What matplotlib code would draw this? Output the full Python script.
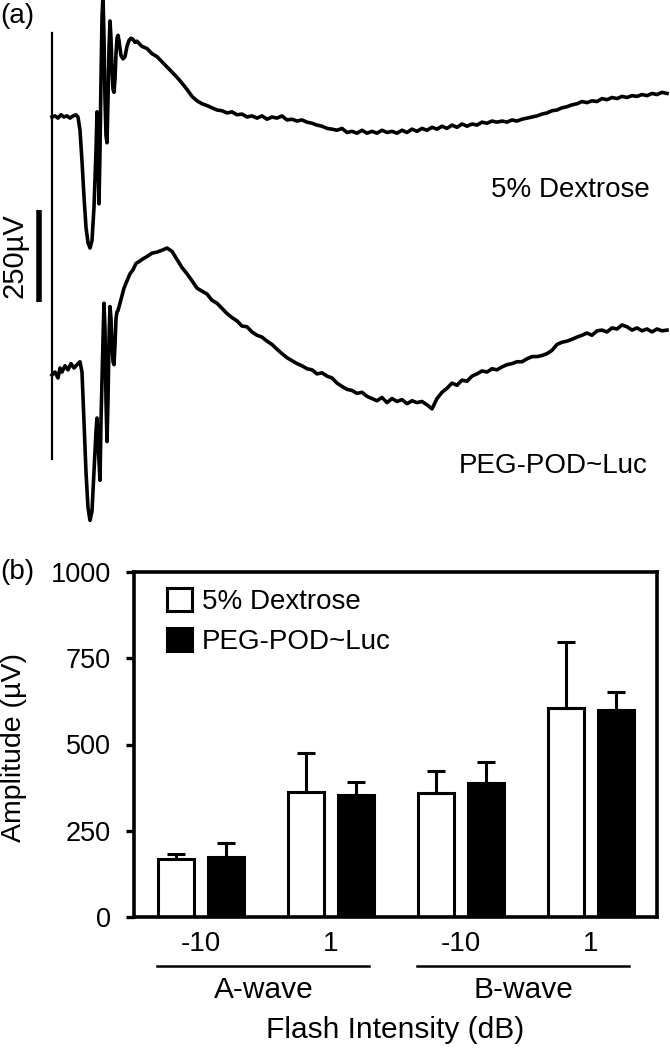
import matplotlib
matplotlib.use("Agg")
import matplotlib.pyplot as plt
from matplotlib.patches import Patch
import numpy as np

plt.rcParams['font.family'] = ['Liberation Sans', 'DejaVu Sans']

# ---------------- (a) ERG traces: time (ms), amplitude (uV rel. baseline) ----
dex_early_t = [0, 1.2, 2.4, 3.6, 4.8, 6, 7.2, 8.4, 9.6, 10.4, 11.2, 12, 12.8, 13.6,
               14.4, 15.2, 16, 16.8, 17.6, 18, 18.4, 18.8, 19.2, 19.6, 20, 20.4,
               20.8, 21.2, 21.6, 22, 22.4, 22.8, 23.2, 23.6, 24, 24.4, 24.8, 25.2,
               25.6, 26, 26.4, 26.8, 27.2, 27.6, 28.4, 29.2, 30, 30.8, 31.6, 32.4,
               33.2, 34, 35.2]
dex_early_v = [0, 3, -3, 6, 0, 3, -3, 3, 6, 0, -36, -120, -217, -300,
               -342, -356, -336, -245, -92, 14, -92, -236, -92, 103, 270, 330,
               214, 47, -50, -70, 47, 186, 261, 214, 131, 75, 67, 103,
               172, 214, 222, 208, 186, 167, 158, 164, 192, 208, 214, 211,
               203, 206, 197]

peg_early_t = [0, 1.2, 2.4, 3.2, 4, 5.2, 6.4, 7.6, 8.8, 10, 11.2, 12, 12.8, 13.6,
               14.4, 15.2, 16, 16.8, 17.6, 18, 18.4, 19.2, 19.6, 20.4, 20.8, 21.2,
               21.6, 22, 22.4, 22.8, 23.2, 23.6, 24, 24.4, 24.8, 25.2, 25.6, 26,
               26.4, 27.2, 28, 28.8, 30, 31.2, 32.4, 33.6, 34.8]
peg_early_v = [0, 8, -8, 19, 8, 25, 14, 31, 19, 28, 36, 8, -125, -264,
               -361, -395, -370, -264, -153, -117, -181, -286, -125, 97, 195, 125,
               -70, -181, -70, 97, 186, 153, 83, 36, 28, 83, 153, 172,
               175, 195, 214, 236, 256, 275, 286, 303, 308]

late_t = [36, 38, 40, 42, 44, 46, 48, 50, 52, 54, 56, 58, 60, 62, 64, 66, 68, 70,
          72, 74, 76, 78, 80, 82, 84, 86, 88, 90, 92, 94, 96, 98, 100, 102, 104,
          106, 108, 110, 112, 114, 116, 118, 120, 122, 124, 126, 128, 130, 132,
          134, 136, 138, 140, 142, 144, 146, 148, 150, 152, 154, 156, 158, 160,
          162, 164, 166, 168, 170, 172, 174, 176, 178, 180, 182, 184, 186, 188,
          190, 192, 194, 196, 198, 200, 202, 204, 206, 208, 210, 212, 214, 216,
          218, 220, 222, 224, 226, 228, 230, 232, 234, 236, 238, 240, 242, 244,
          246]
dex_late_v = [192, 186, 172, 164, 150, 136, 122, 108, 92, 75,
              56, 44, 36, 31, 25, 19, 17, 11, 14, 6,
              8, 0, 3, -3, 3, -6, 0, -3, 3, -8,
              -6, -11, -8, -14, -17, -22, -25, -31, -33, -36,
              -31, -42, -39, -44, -36, -44, -39, -44, -36, -42,
              -39, -44, -36, -42, -33, -39, -31, -36, -28, -33,
              -25, -31, -22, -28, -19, -25, -19, -22, -14, -17,
              -11, -14, -11, -14, -8, -11, -6, -3, 0, 3,
              8, 11, 17, 19, 25, 28, 33, 36, 42, 39,
              44, 42, 50, 47, 53, 50, 56, 53, 58, 56,
              61, 58, 64, 61, 67, 64]
peg_late_v = [314, 322, 331, 334, 339, 345, 336, 314, 292, 275,
              256, 236, 228, 220, 203, 195, 181, 167, 156, 147,
              133, 131, 117, 108, 103, 92, 83, 70, 58, 47,
              39, 31, 25, 17, 14, 3, 6, -3, -8, -22,
              -31, -39, -42, -50, -47, -58, -64, -70, -61, -75,
              -64, -72, -67, -78, -70, -75, -72, -81, -92, -64,
              -47, -36, -22, -28, -14, -17, -3, 3, 11, 8,
              17, 14, 22, 28, 31, 36, 36, 44, 50, 50,
              53, 58, 67, 83, 89, 92, 97, 103, 108, 114,
              108, 120, 122, 117, 128, 125, 136, 131, 122, 128,
              120, 125, 117, 125, 120, 122]

trace_labels = ["5% Dextrose", "PEG-POD~Luc"]
scale_bar_uv = 250

# ---------------- (b) bar chart -------------------------------------------
group_labels = ["-10", "1", "-10", "1"]
wave_labels = ["A-wave", "B-wave"]
series_names = ["5% Dextrose", "PEG-POD~Luc"]
dex_mean = [168, 362, 359, 606]
dex_err = [15, 113, 64, 191]
peg_mean = [174, 353, 388, 600]
peg_err = [40, 38, 61, 52]
y_ticks = [0, 250, 500, 750, 1000]

W, H = 670, 1050
fig = plt.figure(figsize=(W / 100, H / 100), dpi=100)

# ---- panel (a)
axa = fig.add_axes([0, 1 - 530 / H, 1, 530 / H])
axa.set_axis_off()
px_per_ms = 2.5
px_per_uv = 92 / 250
axa.set_xlim(-52 / px_per_ms, (W - 52) / px_per_ms)
top_uv = 117 / px_per_uv
axa.set_ylim(top_uv - 530 / px_per_uv, top_uv)
peg_offset = -(375 - 117) / px_per_uv

dex_t = dex_early_t + late_t
dex_v = dex_early_v + dex_late_v
peg_t = peg_early_t + late_t
peg_v = [v + peg_offset for v in peg_early_v + peg_late_v]

axa.plot(dex_t, dex_v, color='black', lw=2.6, solid_joinstyle='round', clip_on=False)
axa.plot(peg_t, peg_v, color='black', lw=2.6, solid_joinstyle='round', clip_on=False)

# stimulus marker line
axa.plot([0, 0], [top_uv - 33 / px_per_uv, top_uv - 459 / px_per_uv],
         color='black', lw=1.6, clip_on=False)
# scale bar
sb_top = top_uv - 210 / px_per_uv
axa.plot([-13 / px_per_ms] * 2, [sb_top, sb_top - scale_bar_uv],
         color='black', lw=4.0, solid_capstyle='butt', clip_on=False)
fig.text(14 / W, 1 - 256 / H, f"{scale_bar_uv}µV", rotation=90, ha='center',
         va='center', fontsize=21)

fig.text(650 / W, 1 - 190 / H, trace_labels[0], ha='right', va='center', fontsize=20)
fig.text(648 / W, 1 - 466 / H, trace_labels[1], ha='right', va='center', fontsize=20)
fig.text(0 / W, 1 - 16 / H, "(a)", ha='left', va='center', fontsize=20)

# ---- panel (b)
left, right, top, bottom = 134, 657, 572, 917
axb = fig.add_axes([left / W, 1 - bottom / H, (right - left) / W, (bottom - top) / H])
x = np.arange(len(dex_mean))
off = 0.19
bw = 0.277
axb.bar(x - off, dex_mean, bw, color='white', edgecolor='black', linewidth=2.2, zorder=2)
axb.bar(x + off, peg_mean, bw, color='black', edgecolor='black', linewidth=2.2, zorder=2)
zeros = [0] * len(dex_mean)
axb.errorbar(x - off, dex_mean, yerr=[zeros, dex_err], fmt='none', ecolor='black',
             elinewidth=2.2, capsize=6.5, capthick=2.2, zorder=3)
axb.errorbar(x + off, peg_mean, yerr=[zeros, peg_err], fmt='none', ecolor='black',
             elinewidth=2.2, capsize=6.5, capthick=2.2, zorder=3)
axb.set_xlim(-0.515, 3.508)
axb.set_ylim(0, 1000)
axb.set_yticks(y_ticks)
axb.tick_params(axis='y', direction='out', length=5.5, width=2.4, labelsize=19.5, pad=11)
for s in axb.spines.values():
    s.set_linewidth(2.6)

# x category labels centred under each group
axb.set_xticks(x)
axb.set_xticklabels(group_labels, fontsize=20)
axb.tick_params(axis='x', length=0, pad=10)

def ax_y(py):
    return (bottom - py) / (bottom - top)

trans = axb.get_xaxis_transform()
for i, name in enumerate(wave_labels):
    g0, g1 = x[2 * i], x[2 * i + 1]
    axb.plot([g0 - 0.34, g1 + 0.29], [ax_y(966)] * 2, transform=trans,
             color='black', lw=1.8, clip_on=False)
    axb.text((g0 + g1) / 2 - 0.02, ax_y(990), name, transform=trans,
             ha='center', va='center', fontsize=21.5)
axb.text(0.5, ax_y(1030), "Flash Intensity (dB)", transform=axb.transAxes,
         ha='center', va='center', fontsize=21.5)
fig.text(14 / W, 1 - 748 / H, "Amplitude (µV)", rotation=90, ha='center',
         va='center', fontsize=20.5)
fig.text(0 / W, 1 - 572 / H, "(b)", ha='left', va='center', fontsize=20)

handles = [Patch(facecolor='white', edgecolor='black', linewidth=2.2),
           Patch(facecolor='black', edgecolor='black', linewidth=2.2)]
axb.legend(handles, series_names, loc='upper left',
           bbox_to_anchor=(33 / (right - left), ax_y(588)), frameon=False, fontsize=20,
           handlelength=0.9, handleheight=0.9, handletextpad=0.35,
           labelspacing=0.45, borderpad=0, borderaxespad=0)

fig.savefig("out.png", dpi=100)
